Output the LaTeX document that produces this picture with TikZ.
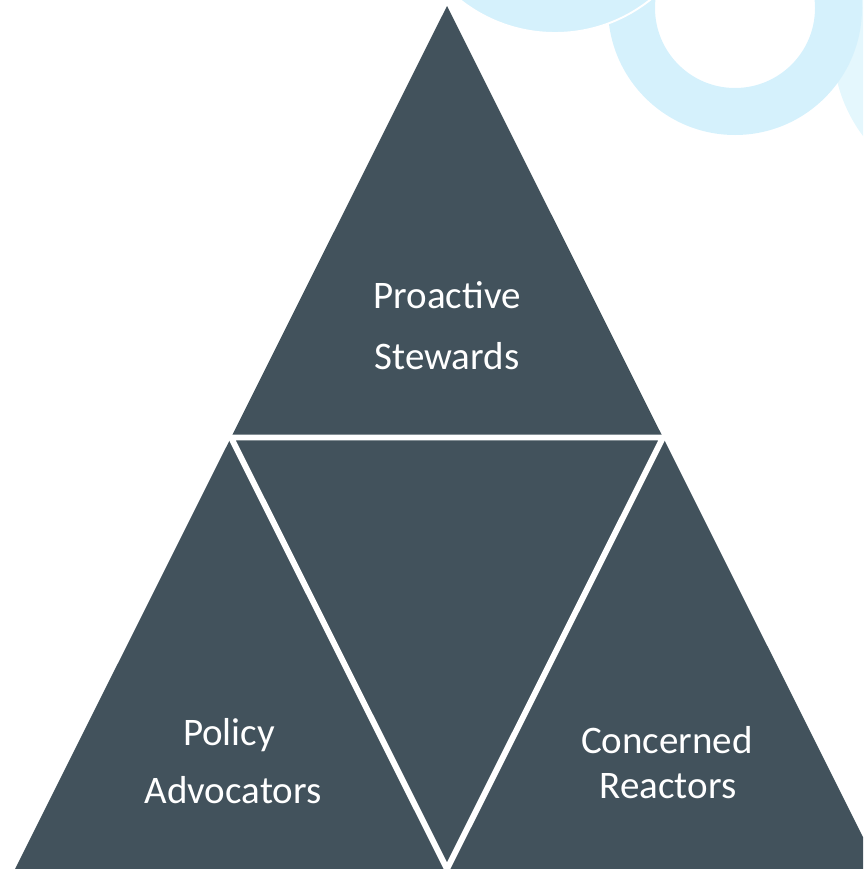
\documentclass[tikz,border=0pt]{standalone}
\usepackage{fontspec}
\setmainfont{Carlito}
\definecolor{slate}{RGB}{66,82,92}
\definecolor{cloud}{RGB}{213,241,252}
\definecolor{paleCloud}{RGB}{228,247,253}
\newcommand\CloudRing[4]{%
    \fill[#4,even odd rule] (#1) circle (#2) circle (#3);
}
\tikzset{lbl/.style={anchor=base,text=white,inner sep=0pt,font=\fontsize{22.2}{26}\selectfont}}

\begin{document}
\begin{tikzpicture}[x=0.02cm,y=-0.02cm]
    \useasboundingbox (0,0) rectangle (863,869);
    \clip (0,0) rectangle (863,869);
    \begin{scope} % background
        \CloudRing{983,46}{150}{110}{paleCloud}
        \CloudRing{735,8}{127}{80}{cloud}
        \draw[white,line width=1.1pt,fill=cloud] (555,-120) circle (153);
    \end{scope}
    \coordinate (Apex) at (447,6);
    \coordinate (BaseL) at (15,869);
    \coordinate (BaseR) at (879,869);
    \coordinate (MidL) at (231,437.5);
    \coordinate (MidR) at (663,437.5);
    \coordinate (MidB) at (447,869);
    \fill[slate] (Apex) -- (BaseL) -- (BaseR) -- cycle;
    \draw[white,line width=3.4pt] (MidL) -- (MidR) -- (MidB) -- cycle;
    \node[lbl] (proactive) at (447,308) {Proactive};
    \node[lbl] (stewards) at (447,369) {Stewards};
    \node[lbl] (policy) at (229,745) {Policy};
    \node[lbl] (advocators) at (233,803) {Advocators};
    \node[lbl] (concerned) at (667,753) {Concerned};
    \node[lbl] (reactors) at (668,798) {Reactors};
\end{tikzpicture}
\end{document}
